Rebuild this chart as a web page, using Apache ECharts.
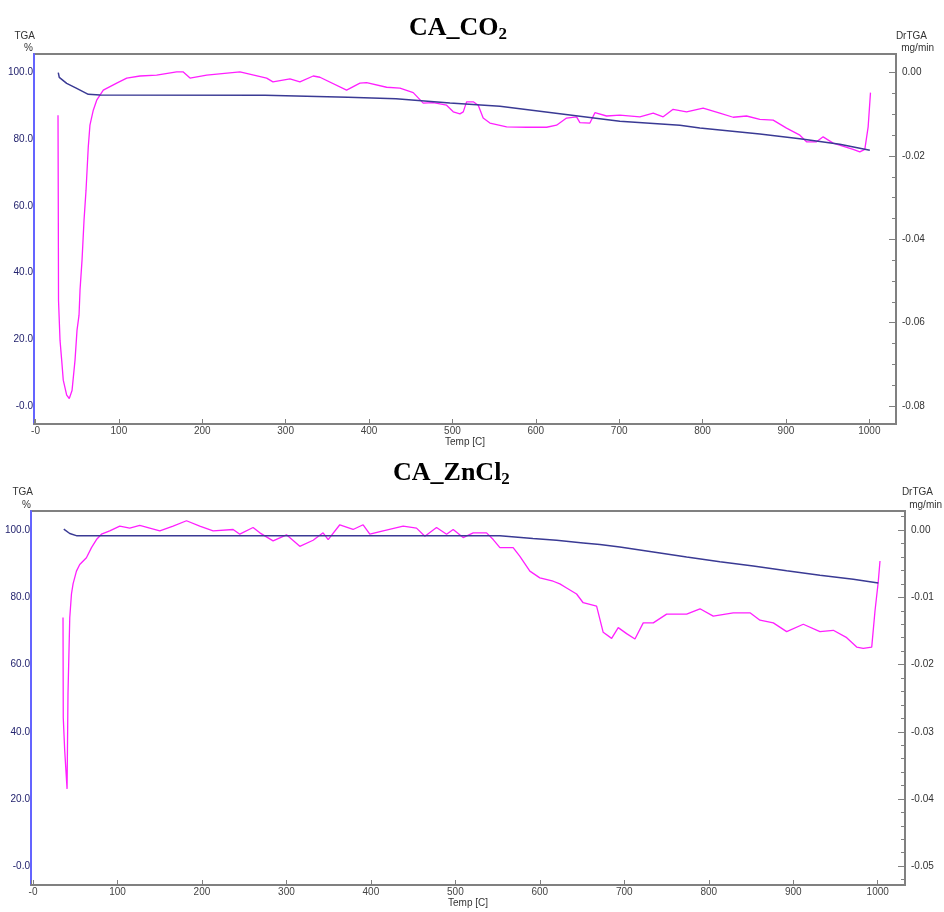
<!DOCTYPE html>
<html>
<head>
<meta charset="utf-8">
<script src="https://cdn.jsdelivr.net/npm/echarts@6/dist/echarts.min.js"></script>
<style>
html,body{margin:0;padding:0;background:#fff;}
#c{width:944px;height:912px;}
</style>
</head>
<body>
<div id="c"></div>
<script>
// ---------- CA_CO2 ----------
const co2TgaTemp = [27.3, 28.5, 37.4, 49.4, 63.3, 77.3, 275.2, 276.4, 374.7, 375.9, 432.3, 433.5, 497.0, 557.0, 628.9, 700.8, 772.8, 796.8, 868.7, 916.7, 964.6, 1000.6];
const co2TgaVal  = [100.0, 98.6, 96.8, 95.3, 93.5, 93.3, 93.2, 92.6, 92.6, 92.2, 92.2, 91.8, 90.9, 89.9, 87.7, 85.4, 84.2, 83.4, 81.6, 80.2, 78.5, 76.7];

const co2DrTemp = [27.0, 27.3, 27.6, 29.4, 31.4, 33.3, 37.4, 40.5, 43.8, 47.4, 49.8, 52.2, 53.4, 55.8, 58.2, 60.6, 63.3, 65.3, 69.3, 73.4, 81.3, 97.4, 109.4, 125.3, 145.3, 169.3, 176.9, 185.3, 205.3, 245.2, 277.2, 284.8, 305.2, 317.1, 333.1, 341.1, 373.1, 389.1, 397.1, 421.1, 437.1, 453.0, 465.0, 477.0, 493.0, 501.0, 509.0, 513.0, 517.0, 525.0, 531.0, 536.9, 545.0, 565.0, 589.0, 613.0, 624.9, 636.9, 648.9, 652.9, 664.9, 670.9, 684.9, 700.8, 724.8, 740.8, 752.8, 764.7, 780.8, 800.7, 820.7, 836.7, 852.8, 868.7, 884.7, 900.7, 916.7, 924.7, 936.7, 944.6, 956.6, 980.6, 988.6, 994.6, 998.6, 1001.4];
const co2DrVal  = [-0.0102, -0.0305, -0.0546, -0.0642, -0.0690, -0.0738, -0.0774, -0.0782, -0.0763, -0.0690, -0.0618, -0.0582, -0.0522, -0.0450, -0.0354, -0.0282, -0.0178, -0.0126, -0.0090, -0.0066, -0.0042, -0.0025, -0.0013, -0.0008, -0.0006, 0.0002, 0.0002, -0.0013, -0.0006, 0.0002, -0.0013, -0.0022, -0.0015, -0.0022, -0.0008, -0.0011, -0.0042, -0.0025, -0.0024, -0.0035, -0.0037, -0.0048, -0.0073, -0.0072, -0.0078, -0.0094, -0.0099, -0.0094, -0.0070, -0.0070, -0.0078, -0.0109, -0.0121, -0.0130, -0.0131, -0.0131, -0.0126, -0.0109, -0.0106, -0.0120, -0.0121, -0.0096, -0.0104, -0.0102, -0.0106, -0.0097, -0.0106, -0.0088, -0.0094, -0.0085, -0.0097, -0.0107, -0.0104, -0.0112, -0.0114, -0.0133, -0.0150, -0.0166, -0.0166, -0.0154, -0.0169, -0.0184, -0.0190, -0.0184, -0.0130, -0.0048];

// ---------- CA_ZnCl2 ----------
const znTgaTemp = [36.4, 43.5, 52.1, 552.7, 553.9, 591.8, 619.8, 651.3, 671.1, 694.7, 734.3, 773.8, 813.2, 852.7, 892.2, 931.6, 971.1, 1000.7];
const znTgaVal  = [100.3, 99.0, 98.3, 98.3, 97.8, 97.5, 97.0, 96.2, 95.7, 95.0, 93.5, 92.0, 90.6, 89.3, 87.9, 86.6, 85.4, 84.3];

const znDrTemp = [35.5, 35.8, 37.5, 40.3, 41.4, 43.5, 45.5, 47.4, 51.4, 55.3, 63.2, 69.2, 75.1, 81.0, 90.8, 102.7, 114.5, 126.4, 138.2, 150.1, 165.8, 181.7, 197.4, 213.2, 236.9, 244.8, 260.5, 268.5, 284.2, 300.1, 315.8, 331.6, 343.4, 349.4, 363.2, 378.9, 390.8, 398.7, 414.5, 438.2, 454.0, 463.9, 477.7, 489.6, 497.4, 509.2, 521.1, 536.9, 544.8, 552.7, 568.4, 576.4, 588.2, 600.0, 615.8, 623.7, 631.7, 643.5, 651.3, 667.2, 675.0, 685.0, 692.8, 702.7, 712.6, 722.4, 734.3, 750.1, 773.8, 789.6, 805.3, 829.0, 848.8, 860.6, 876.4, 892.2, 911.9, 931.6, 947.4, 963.3, 975.1, 982.9, 992.9, 996.8, 1000.7, 1002.7];
const znDrVal  = [-0.0130, -0.0279, -0.0328, -0.0385, -0.0243, -0.0130, -0.0095, -0.0080, -0.0061, -0.0051, -0.0041, -0.0026, -0.0014, -0.0006, -0.0001, 0.0006, 0.0003, 0.0007, 0.0003, -0.0001, 0.0006, 0.0014, 0.0006, -0.0001, 0.0001, -0.0006, 0.0004, -0.0004, -0.0016, -0.0007, -0.0024, -0.0015, -0.0004, -0.0014, 0.0008, 0.0001, 0.0008, -0.0006, -0.0001, 0.0006, 0.0003, -0.0009, 0.0004, -0.0006, 0.0001, -0.0011, -0.0004, -0.0004, -0.0014, -0.0026, -0.0026, -0.0039, -0.0061, -0.0071, -0.0076, -0.0080, -0.0086, -0.0095, -0.0108, -0.0113, -0.0152, -0.0161, -0.0145, -0.0154, -0.0162, -0.0138, -0.0138, -0.0125, -0.0125, -0.0117, -0.0128, -0.0123, -0.0123, -0.0134, -0.0138, -0.0151, -0.0140, -0.0151, -0.0149, -0.0160, -0.0174, -0.0176, -0.0174, -0.0120, -0.0076, -0.0046];

const tempTickLabels = ['-0', '100', '200', '300', '400', '500', '600', '700', '800', '900', '1000'];

function zip(a, b) { return a.map((v, i) => [v, b[i]]); }
function isMult(v, step) { const r = v / step; return Math.abs(r - Math.round(r)) < 1e-6; }

const FONT = 'Liberation Sans, Arial, sans-serif';
const BLUE = '#3a3a94';
const MAG = '#ff1fff';
const GRAY = '#808080';

function xAxisCfg(gi, min, max) {
  return {
    type: 'value', gridIndex: gi, min: min, max: max,
    minInterval: 100, maxInterval: 100, splitNumber: 10,
    name: 'Temp [C]', nameLocation: 'middle', nameGap: 12,
    nameTextStyle: { fontFamily: FONT, fontSize: 10, color: '#333' },
    axisLine: { show: true, onZero: false, lineStyle: { color: GRAY, width: 2 } },
    axisTick: { show: true, inside: true, length: 5, lineStyle: { color: GRAY, width: 1 } },
    axisLabel: {
      margin: 2, fontFamily: FONT, fontSize: 10, color: '#444',
      showMinLabel: true, showMaxLabel: true,
      formatter: v => isMult(v, 100) ? tempTickLabels[Math.round(v / 100)] : ''
    },
    splitLine: { show: false }
  };
}
function leftAxisCfg(gi, min, max) {
  return {
    type: 'value', gridIndex: gi, position: 'left', min: min, max: max,
    minInterval: 20, maxInterval: 20, splitNumber: 5,
    axisLine: { show: true, onZero: false, lineStyle: { color: '#6464ff', width: 2 } },
    axisTick: { show: false },
    axisLabel: {
      margin: 1, fontFamily: FONT, fontSize: 10, color: '#23236e',
      formatter: v => isMult(v, 20) ? (Math.abs(v) < 1e-9 ? '-0.0' : v.toFixed(1)) : ''
    },
    splitLine: { show: false }
  };
}
function rightAxisCfg(gi, min, max, step, minorSplit) {
  return {
    type: 'value', gridIndex: gi, position: 'right', min: min, max: max,
    minInterval: step, maxInterval: step, splitNumber: 5,
    axisLine: { show: true, onZero: false, lineStyle: { color: GRAY, width: 2 } },
    axisTick: { show: true, inside: true, length: 7, lineStyle: { color: GRAY, width: 1 } },
    minorTick: { show: true, splitNumber: minorSplit, length: 4, lineStyle: { color: GRAY, width: 1 } },
    axisLabel: {
      margin: 6, fontFamily: FONT, fontSize: 10, color: '#333',
      formatter: v => isMult(v, step) ? (Math.abs(v) < 1e-9 ? '0.00' : v.toFixed(2)) : ''
    },
    splitLine: { show: false }, minorSplitLine: { show: false }
  };
}

const titleRich = {
  a: { fontFamily: 'Liberation Serif, Times New Roman, serif', fontWeight: 'bold', fontSize: 26, lineHeight: 30, color: '#000' },
  s: { fontFamily: 'Liberation Serif, Times New Roman, serif', fontWeight: 'bold', fontSize: 17, lineHeight: 15, verticalAlign: 'bottom', color: '#000' }
};

const smallText = (x, y, text, align) => ({
  type: 'text', x: x, y: y,
  style: { text: text, fill: '#333', font: '10px ' + FONT, textAlign: align, textVerticalAlign: 'middle' }
});

const chart = echarts.init(document.getElementById('c'), null, { renderer: 'canvas' });
chart.setOption({
  backgroundColor: '#fff',
  animation: false,
  title: [
    { text: '{a|CA_CO}{s|2}', left: 409, top: 13, textStyle: { rich: titleRich }, padding: 0 },
    { text: '{a|CA_ZnCl}{s|2}', left: 393, top: 458, textStyle: { rich: titleRich }, padding: 0 }
  ],
  graphic: [
    smallText(35, 36, 'TGA', 'right'),
    smallText(33, 48, '%', 'right'),
    smallText(927, 36, 'DrTGA', 'right'),
    smallText(934, 48, 'mg/min', 'right'),
    smallText(33, 492, 'TGA', 'right'),
    smallText(31, 505, '%', 'right'),
    smallText(933, 492, 'DrTGA', 'right'),
    smallText(942, 505, 'mg/min', 'right')
  ],
  grid: [
    { left: 34, top: 54, width: 862, height: 370, show: true, borderColor: GRAY, borderWidth: 2, containLabel: false },
    { left: 31, top: 511, width: 874, height: 374, show: true, borderColor: GRAY, borderWidth: 2, containLabel: false }
  ],
  xAxis: [
    xAxisCfg(0, -1.8, 1032),
    xAxisCfg(1, -2.4, 1032.3)
  ],
  yAxis: [
    leftAxisCfg(0, -5.4, 105.6),
    rightAxisCfg(0, -0.08432, 0.00448, 0.02, 4),
    leftAxisCfg(1, -5.6, 105.7),
    rightAxisCfg(1, -0.0528, 0.00285, 0.01, 5)
  ],
  series: [
    { type: 'line', xAxisIndex: 0, yAxisIndex: 0, data: zip(co2TgaTemp, co2TgaVal), showSymbol: false, lineStyle: { color: BLUE, width: 1.5 }, z: 3 },
    { type: 'line', xAxisIndex: 0, yAxisIndex: 1, data: zip(co2DrTemp, co2DrVal), showSymbol: false, lineStyle: { color: MAG, width: 1.3 }, z: 2 },
    { type: 'line', xAxisIndex: 1, yAxisIndex: 2, data: zip(znTgaTemp, znTgaVal), showSymbol: false, lineStyle: { color: BLUE, width: 1.5 }, z: 3 },
    { type: 'line', xAxisIndex: 1, yAxisIndex: 3, data: zip(znDrTemp, znDrVal), showSymbol: false, lineStyle: { color: MAG, width: 1.3 }, z: 2 }
  ]
});
</script>
</body>
</html>
